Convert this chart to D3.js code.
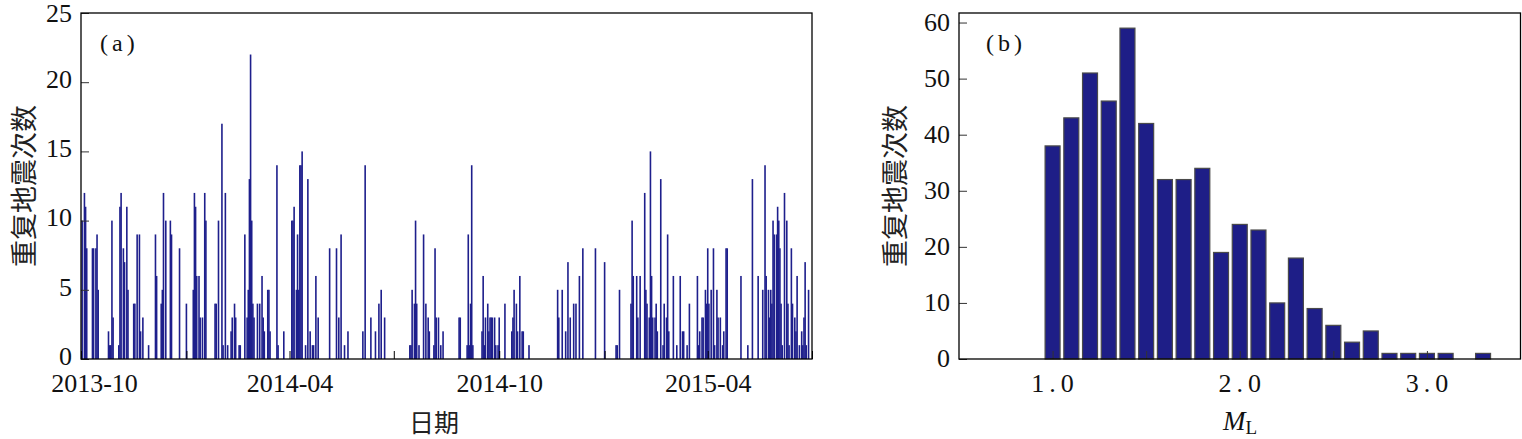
<!DOCTYPE html>
<html><head><meta charset="utf-8">
<script src="https://cdn.jsdelivr.net/npm/d3@7"></script>
<style>body{margin:0;background:#fff} svg{display:block}</style>
</head><body>
<svg id="c" width="1522" height="439"></svg>
<script>
// ---------- Panel (a): daily repeating-earthquake counts ----------
const startDate = "2013-10-01";
const endDate = "2015-07-01";
const dayOffsets = [
  1,3,4,5,10,11,13,14,15,24,25,26,27,28,33,34,35,37,38,40,41,46,47,49,51,52,54,59,65,66,70,71,72,74,78,79,86,92,
  98,99,100,101,103,104,106,108,109,117,118,120,123,124,126,128,131,132,134,135,138,139,143,145,146,147,148,149,150,151,154,156,158,159,160,
  163,164,165,171,172,177,184,185,186,188,189,190,191,192,193,196,198,200,202,203,205,207,217,223,225,227,230,233,246,248,253,257,260,262,265,
  287,288,289,291,292,293,295,299,301,303,304,308,309,310,312,314,316,
  330,331,337,338,339,340,341,342,350,351,352,353,355,356,357,358,359,361,362,364,365,370,376,377,378,380,381,383,385,386,391,
  416,417,420,423,425,427,430,432,435,438,449,457,467,468,470,
  480,481,482,485,486,488,492,493,494,496,497,498,499,501,502,503,506,508,509,511,512,513,517,520,523,525,526,529,531,
  538,539,540,542,543,545,546,547,548,550,552,553,555,556,558,560,561,563,564,576,582,586,591,595,597,598,600,601,602,603,
  604,605,607,608,609,610,611,612,614,616,617,618,620,621,623,624,625,627,629,630,631,632,633,635
];
const dailyCounts = [
  10,12,11,8,8,8,8,9,5,2,1,1,10,3,1,11,12,8,7,11,5,4,4,9,9,2,3,1,9,6,4,5,12,10,10,9,8,4,
  5,12,11,6,6,3,3,12,10,4,4,10,17,1,12,1,2,3,4,3,1,1,9,3,5,13,22,10,4,3,4,4,6,3,2,
  5,5,2,14,1,2,10,10,11,5,9,5,14,14,15,1,13,2,1,1,6,3,8,8,3,9,1,2,2,14,3,2,4,5,3,
  1,1,5,4,10,4,1,9,4,3,2,1,8,3,3,1,2,
  3,3,1,9,1,4,14,1,2,6,1,3,4,2,3,3,3,3,1,1,3,4,2,3,5,4,2,6,2,2,1,
  5,3,5,2,7,3,4,4,6,8,8,7,1,1,5,
  4,10,6,6,3,6,12,5,4,3,15,6,3,3,4,2,13,1,4,3,9,2,6,1,6,2,2,1,4,
  6,1,2,3,3,5,4,8,4,5,8,1,5,3,3,1,2,8,8,6,1,13,6,5,14,6,5,3,5,4,
  10,9,9,11,10,8,4,1,12,10,4,1,8,4,3,2,6,1,2,1,3,7,1,5
];
const yTicksA = [0, 5, 10, 15, 20, 25];
const xLabelMonthsA = ["2013-10", "2014-04", "2014-10", "2015-04"];

// ---------- Panel (b): magnitude histogram ----------
const magnitudes = [1.0,1.1,1.2,1.3,1.4,1.5,1.6,1.7,1.8,1.9,2.0,2.1,2.2,2.3,2.4,2.5,2.6,2.7,2.8,2.9,3.0,3.1,3.2,3.3];
const magCounts  = [38,43,51,46,59,42,32,32,34,19,24,23,10,18,9,6,3,5,1,1,1,1,0,1];
const yTicksB = [0, 10, 20, 30, 40, 50, 60];
const xTicksB = [1.0, 1.5, 2.0, 2.5, 3.0];
const xLabelsB = ["1.0", "2.0", "3.0"];

const svg = d3.select("#c");
const NUM_FONT = "'Liberation Serif','Times New Roman',serif";
const CJK_FONT = "'Noto Sans CJK SC','Noto Sans CJK JP',sans-serif";

// ===== Panel A =====
const A = {l: 81, r: 812, t: 13, b: 359};
const parse = d3.utcParse("%Y-%m-%d");
const t0 = parse(startDate), t1 = parse(endDate);
const xA = d3.scaleUtc().domain([t0, t1]).range([A.l, A.r]);
const yA = d3.scaleLinear().domain([0, 25]).range([A.b, A.t]);
const dataA = dayOffsets.map((d, i) => ({date: d3.utcDay.offset(t0, d), v: dailyCounts[i]}));

const gA = svg.append("g");
const dayW = xA(d3.utcDay.offset(t0, 1)) - xA(t0);
const barW = Math.max(1.6, dayW);
gA.selectAll("rect.bar").data(dataA).join("rect")
  .attr("class", "bar")
  .attr("x", d => xA(d.date) - barW / 2)
  .attr("width", barW)
  .attr("y", d => yA(d.v))
  .attr("height", d => yA(0) - yA(d.v))
  .attr("fill", "#1e1f8c");

const fmt = d3.utcFormat("%Y-%m");
const axA_x = gA.append("g").attr("transform", `translate(0,${A.b})`)
  .call(d3.axisBottom(xA).ticks(d3.utcMonth.every(3))
    .tickSizeInner(-8).tickSizeOuter(0).tickPadding(15)
    .tickFormat(d => xLabelMonthsA.includes(fmt(d)) ? fmt(d) : ""));
axA_x.select(".domain").remove();
axA_x.selectAll("text").attr("font-family", NUM_FONT).attr("font-size", 26).attr("fill", "#111")
  .attr("dx", d => fmt(d) === xLabelMonthsA[0] ? 13 : 0);
axA_x.selectAll("line").attr("stroke", "#000");

const axA_y = gA.append("g").attr("transform", `translate(${A.l},0)`)
  .call(d3.axisLeft(yA).tickValues(yTicksA).tickSizeInner(-8).tickSizeOuter(0).tickPadding(9));
axA_y.select(".domain").remove();
axA_y.selectAll("text").attr("font-family", NUM_FONT).attr("font-size", 26).attr("fill", "#111")
  .attr("dy", d => d === 25 ? "0.34em" : "0.2em");
axA_y.selectAll("line").attr("stroke", "#333");

gA.append("rect").attr("x", A.l).attr("y", A.t).attr("width", A.r - A.l).attr("height", A.b - A.t)
  .attr("fill", "none").attr("stroke", "#000").attr("stroke-width", 1.3);

gA.append("text").attr("x", A.l + 19).attr("y", 51).text("(a)")
  .attr("font-family", NUM_FONT).attr("font-size", 24).attr("letter-spacing", 4).attr("fill", "#111");
gA.append("text").attr("x", 434).attr("y", 432).attr("text-anchor", "middle").text("日期")
  .attr("font-family", CJK_FONT).attr("font-size", 25).attr("fill", "#222");
gA.append("text").attr("transform", "translate(22,186) rotate(-90)").attr("text-anchor", "middle")
  .attr("dominant-baseline", "central").text("重复地震次数")
  .attr("font-family", CJK_FONT).attr("font-size", 27).attr("fill", "#222");

// ===== Panel B =====
const B = {l: 959, r: 1520.5, t: 13, b: 359};
const xB = d3.scaleLinear().domain([0.5, 3.5]).range([B.l, B.r]);
const yB = d3.scaleLinear().domain([0, 61.7]).range([B.b, B.t]);
const dataB = magnitudes.map((m, i) => ({m, v: magCounts[i]})).filter(d => d.v > 0);
const gB = svg.append("g");
const halfW = 0.04;
gB.selectAll("rect.bar").data(dataB).join("rect")
  .attr("class", "bar")
  .attr("x", d => xB(d.m - halfW))
  .attr("width", d => xB(d.m + halfW) - xB(d.m - halfW))
  .attr("y", d => yB(d.v))
  .attr("height", d => yB(0) - yB(d.v))
  .attr("fill", "#1e1e87").attr("stroke", "#4a4a4a").attr("stroke-width", 1.2);

const axB_x = gB.append("g").attr("transform", `translate(0,${B.b})`)
  .call(d3.axisBottom(xB).tickValues(xTicksB).tickSizeInner(-8).tickSizeOuter(0).tickPadding(15)
    .tickFormat(d => { const s = d.toFixed(1); return xLabelsB.includes(s) ? s : ""; }));
axB_x.select(".domain").remove();
axB_x.selectAll("text").attr("font-family", NUM_FONT).attr("font-size", 26).attr("fill", "#111")
  .attr("letter-spacing", 5).attr("dx", 2);
axB_x.selectAll("line").attr("stroke", "#333");

const axB_y = gB.append("g").attr("transform", `translate(${B.l},0)`)
  .call(d3.axisLeft(yB).tickValues(yTicksB).tickSizeInner(-8).tickSizeOuter(0).tickPadding(9));
axB_y.select(".domain").remove();
axB_y.selectAll("text").attr("font-family", NUM_FONT).attr("font-size", 26).attr("fill", "#111")
  .attr("dy", "0.3em");
axB_y.selectAll("line").attr("stroke", "#333");

gB.append("rect").attr("x", B.l).attr("y", B.t).attr("width", B.r - B.l).attr("height", B.b - B.t)
  .attr("fill", "none").attr("stroke", "#000").attr("stroke-width", 1.3);

gB.append("text").attr("x", 986).attr("y", 51).text("(b)")
  .attr("font-family", NUM_FONT).attr("font-size", 24).attr("letter-spacing", 4).attr("fill", "#111");
const ml = gB.append("text").attr("x", 1240).attr("y", 430).attr("text-anchor", "middle")
  .attr("font-family", NUM_FONT).attr("fill", "#111");
ml.append("tspan").attr("font-style", "italic").attr("font-size", 27).text("M");
ml.append("tspan").attr("font-size", 19).attr("dy", 4).text("L");
gB.append("text").attr("transform", "translate(893,186) rotate(-90)").attr("text-anchor", "middle")
  .attr("dominant-baseline", "central").text("重复地震次数")
  .attr("font-family", CJK_FONT).attr("font-size", 27).attr("fill", "#222");
</script>
</body></html>
